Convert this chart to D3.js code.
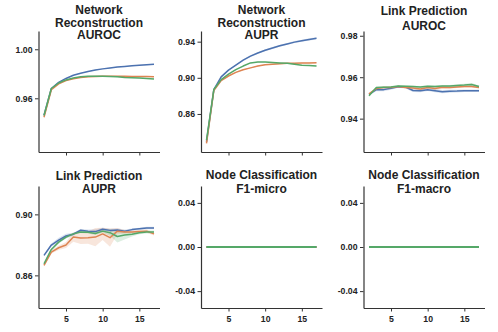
<!DOCTYPE html>
<html lang="en">
<head>
  <meta charset="UTF-8">
  <title>Embedding dimension sweep</title>
  <style type="text/css" media="all">
    body { margin: 0; background: #fff; }
    svg text { font-family: "Liberation Sans", Arial, sans-serif; font-weight: bold; fill: #222; }
    .domain, .tick line { stroke: #333; }
  </style>
</head>
<body>
  <div id="graph"></div>
  <script src="https://d3js.org/d3.v7.min.js" charset="utf-8"></script>
  <script>
    // x values (same for every panel)
    var dims = [2, 3, 4, 5, 6, 7, 8, 9, 10, 11, 12, 13, 14, 15, 16, 17];

    // Network Reconstruction AUROC
    var nrAurocBlue   = [0.9462, 0.968, 0.973, 0.9762, 0.9788, 0.9805, 0.9818, 0.983, 0.984, 0.9848, 0.9855, 0.986, 0.9865, 0.987, 0.9873, 0.9877];
    var nrAurocOrange = [0.9445, 0.967, 0.9718, 0.9745, 0.976, 0.977, 0.9775, 0.9778, 0.978, 0.978, 0.978, 0.9779, 0.9778, 0.9777, 0.9777, 0.9776];
    var nrAurocGreen  = [0.946, 0.968, 0.9725, 0.975, 0.9765, 0.9775, 0.978, 0.978, 0.978, 0.9778, 0.9775, 0.977, 0.9768, 0.9765, 0.9762, 0.9758];

    // Network Reconstruction AUPR
    var nrAuprBlue   = [0.829, 0.887, 0.901, 0.9085, 0.914, 0.9195, 0.924, 0.9275, 0.9305, 0.933, 0.9355, 0.9375, 0.9395, 0.941, 0.9425, 0.9437];
    var nrAuprOrange = [0.8275, 0.886, 0.897, 0.902, 0.906, 0.909, 0.911, 0.913, 0.9145, 0.915, 0.9155, 0.916, 0.9162, 0.9164, 0.9165, 0.9166];
    var nrAuprGreen  = [0.831, 0.887, 0.898, 0.904, 0.909, 0.913, 0.9165, 0.9175, 0.9175, 0.917, 0.9165, 0.916, 0.915, 0.914, 0.9135, 0.913];

    // Link Prediction AUROC
    var lpAurocBlue   = [0.9517, 0.954, 0.954, 0.9547, 0.9554, 0.9552, 0.9536, 0.9535, 0.954, 0.9535, 0.953, 0.9532, 0.9533, 0.9535, 0.9535, 0.9535];
    var lpAurocOrange = [0.952, 0.9545, 0.955, 0.955, 0.9555, 0.955, 0.9548, 0.9543, 0.955, 0.9545, 0.9552, 0.955, 0.9553, 0.9555, 0.9555, 0.955];
    var lpAurocGreen  = [0.951, 0.955, 0.9552, 0.9553, 0.9557, 0.9556, 0.9555, 0.9553, 0.9556, 0.9555, 0.9557, 0.9557, 0.956, 0.9562, 0.9565, 0.9555];

    // Link Prediction AUPR
    var lpAuprBlue   = [0.8731, 0.8799, 0.8831, 0.8858, 0.887, 0.8896, 0.889, 0.8887, 0.8902, 0.8895, 0.8897, 0.889, 0.89, 0.8905, 0.891, 0.891];
    var lpAuprOrange = [0.8666, 0.8753, 0.8781, 0.8799, 0.8851, 0.8845, 0.8847, 0.8851, 0.8872, 0.8847, 0.889, 0.8885, 0.8885, 0.8887, 0.889, 0.8872];
    var lpAuprGreen  = [0.8676, 0.877, 0.8818, 0.8851, 0.8872, 0.8885, 0.8883, 0.8875, 0.889, 0.888, 0.8855, 0.8865, 0.887, 0.888, 0.8885, 0.8885];

    // Node Classification (both F1 scores stay at zero)
    var ncZeros = [0, 0, 0, 0, 0, 0, 0, 0, 0, 0, 0, 0, 0, 0, 0, 0];

    // half width of the shaded bands
    var nrAurocSpread = [0.0004, 0.0003, 0.0003, 0.0003, 0.0003, 0.0003, 0.0003, 0.0003, 0.0003, 0.0003, 0.0003, 0.0003, 0.0003, 0.0003, 0.0003, 0.0003];
    var nrAuprSpreadBlue = [0.0005, 0.0005, 0.0006, 0.0007, 0.0008, 0.0008, 0.0009, 0.0009, 0.001, 0.001, 0.001, 0.001, 0.0011, 0.0011, 0.0012, 0.0012];
    var nrAuprSpread = [0.0005, 0.0004, 0.0004, 0.0004, 0.0004, 0.0004, 0.0004, 0.0004, 0.0004, 0.0005, 0.0005, 0.0005, 0.0005, 0.0005, 0.0005, 0.0005];
    var lpAurocSpreadBlue   = [0.0004, 0.0008, 0.0008, 0.0007, 0.0005, 0.0006, 0.0008, 0.0008, 0.0007, 0.0008, 0.0008, 0.0007, 0.0007, 0.0006, 0.0006, 0.0006];
    var lpAurocSpreadOrange = [0.0004, 0.0005, 0.0005, 0.0005, 0.0004, 0.0005, 0.0006, 0.0008, 0.0006, 0.0007, 0.0006, 0.0006, 0.0005, 0.0005, 0.0005, 0.0005];
    var lpAurocSpreadGreen  = [0.0004, 0.0004, 0.0004, 0.0004, 0.0004, 0.0004, 0.0004, 0.0005, 0.0005, 0.0005, 0.0005, 0.0005, 0.0006, 0.0007, 0.0007, 0.0005];
    var lpAuprSpreadBlue   = [0.0005, 0.001, 0.0015, 0.0015, 0.001, 0.0008, 0.001, 0.0015, 0.001, 0.001, 0.001, 0.001, 0.0008, 0.0008, 0.0008, 0.0008];
    var lpAuprSpreadOrange = [0.0008, 0.001, 0.0015, 0.002, 0.003, 0.004, 0.004, 0.006, 0.004, 0.006, 0.002, 0.0012, 0.001, 0.001, 0.001, 0.001];
    var lpAuprSpreadGreen  = [0.0008, 0.001, 0.001, 0.001, 0.0008, 0.0008, 0.0008, 0.001, 0.001, 0.002, 0.004, 0.003, 0.0015, 0.001, 0.001, 0.001];
    var ncSpread = ncZeros;

    var xTicks = [5, 10, 15];
    var colors = ['#4c72b0', '#dd8452', '#55a868'];

    var width = 498, height = 332, panelWidth = 121;

    var panels = [
      { title: ['Network', 'Reconstruction', 'AUROC'], left: 38.5, top: 31, bottom: 152, titleBase: 39, titleStep: 12.5,
        yDomain: [0.9162, 1.0149], yTicks: [0.96, 1.00], xLabels: false,
        series: [nrAurocBlue, nrAurocOrange, nrAurocGreen], spreads: [nrAurocSpread, nrAurocSpread, nrAurocSpread] },
      { title: ['Network', 'Reconstruction', 'AUPR'], left: 201, top: 31, bottom: 152, titleBase: 39, titleStep: 12.5,
        yDomain: [0.8179, 0.9518], yTicks: [0.86, 0.90, 0.94], xLabels: false,
        series: [nrAuprBlue, nrAuprOrange, nrAuprGreen], spreads: [nrAuprSpreadBlue, nrAuprSpread, nrAuprSpread] },
      { title: ['Link Prediction', 'AUROC'], left: 363.5, top: 31, bottom: 152, titleBase: 29.5, titleStep: 14.5,
        yDomain: [0.9239, 0.9823], yTicks: [0.94, 0.96, 0.98], xLabels: false,
        series: [lpAurocBlue, lpAurocOrange, lpAurocGreen], spreads: [lpAurocSpreadBlue, lpAurocSpreadOrange, lpAurocSpreadGreen] },
      { title: ['Link Prediction', 'AUPR'], left: 38.5, top: 186, bottom: 308, titleBase: 193, titleStep: 13.5,
        yDomain: [0.8386, 0.9186], yTicks: [0.86, 0.90], xLabels: true,
        series: [lpAuprBlue, lpAuprOrange, lpAuprGreen], spreads: [lpAuprSpreadBlue, lpAuprSpreadOrange, lpAuprSpreadGreen] },
      { title: ['Node Classification', 'F1-micro'], left: 201, top: 186, bottom: 308, titleBase: 192.5, titleStep: 13.5,
        yDomain: [-0.0553, 0.0553], yTicks: [-0.04, 0.00, 0.04], xLabels: true, lineWidth: 2,
        series: [ncZeros, ncZeros, ncZeros], spreads: [ncSpread, ncSpread, ncSpread] },
      { title: ['Node Classification', 'F1-macro'], left: 363.5, top: 186, bottom: 308, titleBase: 192.5, titleStep: 13.5,
        yDomain: [-0.0553, 0.0553], yTicks: [-0.04, 0.00, 0.04], xLabels: true, lineWidth: 2,
        series: [ncZeros, ncZeros, ncZeros], spreads: [ncSpread, ncSpread, ncSpread] }
    ];

    var svg = d3.select('#graph').append('svg')
        .attr('width', width)
        .attr('height', height);

    panels.forEach(function(p) {
      var x = d3.scaleLinear().domain([1.25, 17.75]).range([p.left, p.left + panelWidth]),
          y = d3.scaleLinear().domain(p.yDomain).range([p.bottom, p.top]);

      var g = svg.append('g');

      p.series.forEach(function(values, i) {
        var spread = p.spreads[i];
        var area = d3.area()
            .x(function(d, j) { return x(dims[j]); })
            .y0(function(d, j) { return y(d - spread[j]); })
            .y1(function(d, j) { return y(d + spread[j]); });
        g.append('path')
          .attr('d', area(values))
          .attr('fill', colors[i])
          .attr('fill-opacity', 0.2);
      });

      p.series.forEach(function(values, i) {
        var line = d3.line()
            .x(function(d, j) { return x(dims[j]); })
            .y(function(d) { return y(d); });
        g.append('path')
          .attr('d', line(values))
          .attr('fill', 'none')
          .attr('stroke', colors[i])
          .attr('stroke-width', p.lineWidth || 1.5)
          .attr('stroke-linejoin', 'round');
      });

      var xAxis = g.append('g')
          .attr('transform', 'translate(0,' + p.bottom + ')')
          .call(d3.axisBottom(x).tickValues(xTicks).tickSize(3.5).tickSizeOuter(0)
            .tickFormat(p.xLabels ? d3.format('d') : function() { return ''; }));

      var yAxis = g.append('g')
          .attr('transform', 'translate(' + p.left + ',0)')
          .call(d3.axisLeft(y).tickValues(p.yTicks).tickSize(3.5).tickSizeOuter(0)
            .tickFormat(function(d) { return d3.format('.2f')(d).replace('\u2212', '-'); }));

      [xAxis, yAxis].forEach(function(ax) {
        ax.select('.domain').attr('stroke-width', 1.2);
        ax.selectAll('.tick line').attr('stroke-width', 1);
        ax.selectAll('.tick text').style('font-size', '8.7px').attr('fill', '#222');
      });
      xAxis.selectAll('.tick text').attr('dy', '0.85em');
      yAxis.selectAll('.tick text').attr('x', -6);

      var n = p.title.length;
      g.append('text')
        .attr('text-anchor', 'middle')
        .style('font-size', '12px')
        .selectAll('tspan')
        .data(p.title)
        .enter().append('tspan')
          .attr('x', p.left + panelWidth / 2)
          .attr('y', function(d, i) { return p.titleBase - (n - 1 - i) * p.titleStep; })
          .text(function(d) { return d; });
    });
  </script>
</body>
</html>
